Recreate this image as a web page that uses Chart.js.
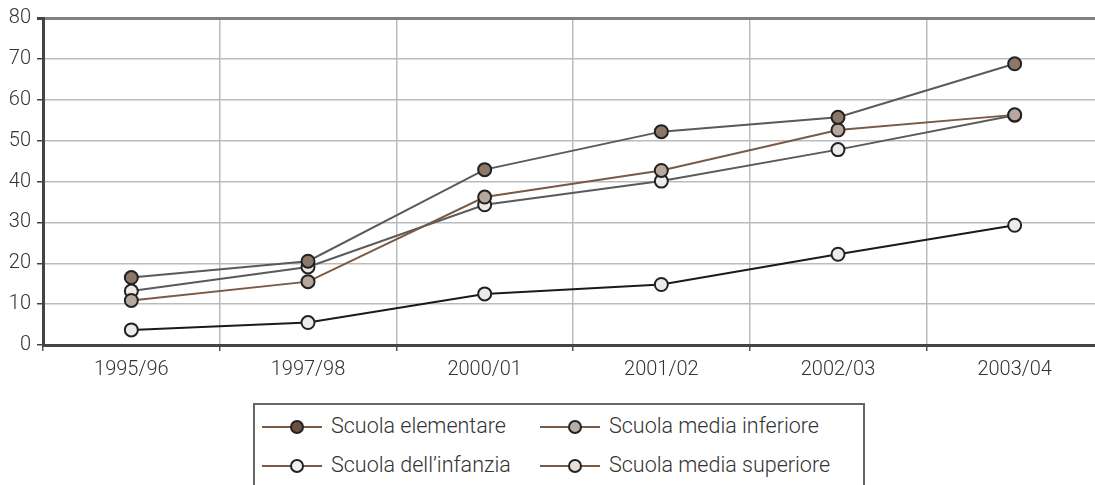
<!DOCTYPE html>
<html>
<head>
<meta charset="utf-8">
<script src="https://cdn.jsdelivr.net/npm/chart.js@4/dist/chart.umd.min.js"></script>
<style>
  html, body { margin: 0; padding: 0; background: #fff; overflow: hidden; width: 1095px; height: 485px; }
  #wrap { position: absolute; left: 0; top: 0; width: 1103px; height: 390px; }
  #legenda { position: absolute; left: 253px; top: 403px; width: 612px; height: 100px; border: 2px solid #666; box-sizing: border-box; }
  .voce { position: absolute; height: 24px; font: 300 21.5px Roboto, "Liberation Sans", sans-serif; color: #333; white-space: nowrap; }
  .voce .linea { position: absolute; left: 0; top: 11px; width: 60px; height: 2px; background: #7a5a45; }
  .voce .punto { position: absolute; left: 28px; top: 5px; width: 10px; height: 10px; border: 2px solid #222; border-radius: 50%; }
  .voce .testo { position: absolute; left: 69px; top: -2px; }
</style>
</head>
<body>
<div id="wrap"><canvas id="grafico" width="1103" height="390"></canvas></div>
<div id="legenda"></div>
<script>
const anni = ['1995/96', '1997/98', '2000/01', '2001/02', '2002/03', '2003/04']
const elementare = [16.5, 20.5, 42.9, 52.2, 55.7, 68.8]
const mediaInferiore = [10.9, 15.5, 36.2, 42.7, 52.6, 56.3]
const infanzia = [3.7, 5.5, 12.5, 14.8, 22.2, 29.3]
const mediaSuperiore = [13.2, 19.1, 34.3, 40.1, 47.8, 56.2]
const yTicks = [0, 10, 20, 30, 40, 50, 60, 70, 80]

const font = { family: 'Roboto, "Liberation Sans", sans-serif', size: 20, weight: 300 }

function serie(label, data, linea, fill) {
    return {
        label, data,
        borderColor: linea, borderWidth: 2,
        pointBackgroundColor: fill, pointBorderColor: '#222', pointBorderWidth: 2,
        pointRadius: 6.5, pointHoverRadius: 6.5,
        tension: 0, fill: false, clip: false
    }
}

const datasets = [
    serie('Scuola elementare', elementare, '#5a5a5a', '#8d7768'),
    serie('Scuola media inferiore', mediaInferiore, '#7a5a45', '#b7a79c'),
    serie('Scuola media superiore', mediaSuperiore, '#5a5a5a', '#eeeae7'),
    serie("Scuola dell'infanzia", infanzia, '#1a1a1a', '#eeeae7')
]

new Chart('grafico', {
    type: 'line',
    data: { labels: anni, datasets },
    options: {
        responsive: false,
        animation: false,
        layout: { autoPadding: false, padding: { top: 17, right: 0, left: 0, bottom: 0 } },
        plugins: { legend: { display: false }, tooltip: { enabled: false } },
        scales: {
            x: {
                offset: true,
                grid: { offset: true, color: '#bbb', lineWidth: 1.5, tickLength: 6, tickColor: '#555' },
                border: { color: '#444', width: 3 },
                ticks: { font, color: '#333', padding: 7, maxRotation: 0 },
                afterFit: s => { s.height = 45 }
            },
            y: {
                min: 0, max: 80,
                afterBuildTicks: s => { s.ticks = yTicks.map(v => ({ value: v })) },
                grid: {
                    color: c => c.tick && c.tick.value == 80 ? '#808080' : '#bbb',
                    lineWidth: c => c.tick && c.tick.value == 80 ? 3 : 1.5,
                    tickLength: 6, tickColor: '#444'
                },
                border: { color: '#444', width: 3 },
                ticks: { font, color: '#333', padding: 6 },
                afterFit: s => { s.width = 43 }
            }
        }
    }
})

// legenda in html
const voci = [
    ['Scuola elementare', '#6b4f3f', 262, 427],
    ['Scuola media inferiore', '#b9ada4', 540, 427],
    ["Scuola dell’infanzia", '#f4f2f0', 262, 466],
    ['Scuola media superiore', '#e3dfdb', 540, 466]
]
const legenda = document.querySelector('#legenda')
voci.forEach(([nome, colore, x, y]) => {
    legenda.insertAdjacentHTML('beforeend', `<div class="voce" style="left:${x - 255}px;top:${y - 12 - 405}px">
        <span class="linea"></span><span class="punto" style="background:${colore}"></span><span class="testo">${nome}</span>
    </div>`)
})
</script>
</body>
</html>
